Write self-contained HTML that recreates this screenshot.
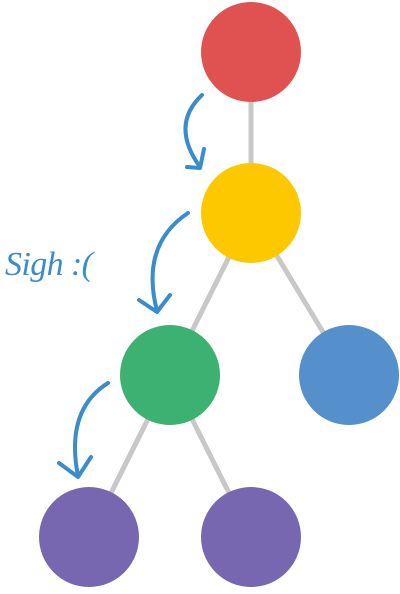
<!DOCTYPE html>
<html><head><style>body{margin:0;background:#fff}</style></head><body>
<svg width="400" height="589" xmlns="http://www.w3.org/2000/svg">
<g stroke="#c8c8c8" stroke-width="5">
<line x1="251" y1="52" x2="251" y2="213"/>
<line x1="251" y1="213" x2="170" y2="375"/>
<line x1="251" y1="213" x2="349" y2="375"/>
<line x1="170" y1="375" x2="89" y2="537"/>
<line x1="170" y1="375" x2="251" y2="537"/>
</g>
<circle cx="251" cy="52" r="50" fill="#e05252"/>
<circle cx="251" cy="213" r="50" fill="#fdc800"/>
<circle cx="170" cy="375" r="50" fill="#3cb171"/>
<circle cx="349" cy="375" r="50" fill="#5590cc"/>
<circle cx="89" cy="537" r="50" fill="#7667b0"/>
<circle cx="251" cy="537" r="50" fill="#7667b0"/>
<g stroke="#3a8ccc" stroke-width="4" fill="none" stroke-linecap="round" stroke-linejoin="round">
<path d="M202 95 Q170 125 200 167"/>
<path d="M187 167 L200 168 L204 149"/>
<path d="M188 213 Q140 245 157 311"/>
<path d="M139 300 L157 312 L170 295"/>
<path d="M108 383 Q65 410 78 476"/>
<path d="M59 463 L78 477 L91 457"/>
</g>
<text x="5" y="275" font-family="Liberation Serif, serif" font-style="italic" font-size="34" fill="#3a8ccc" textLength="88">Sigh :(</text>
</svg>
</body></html>
